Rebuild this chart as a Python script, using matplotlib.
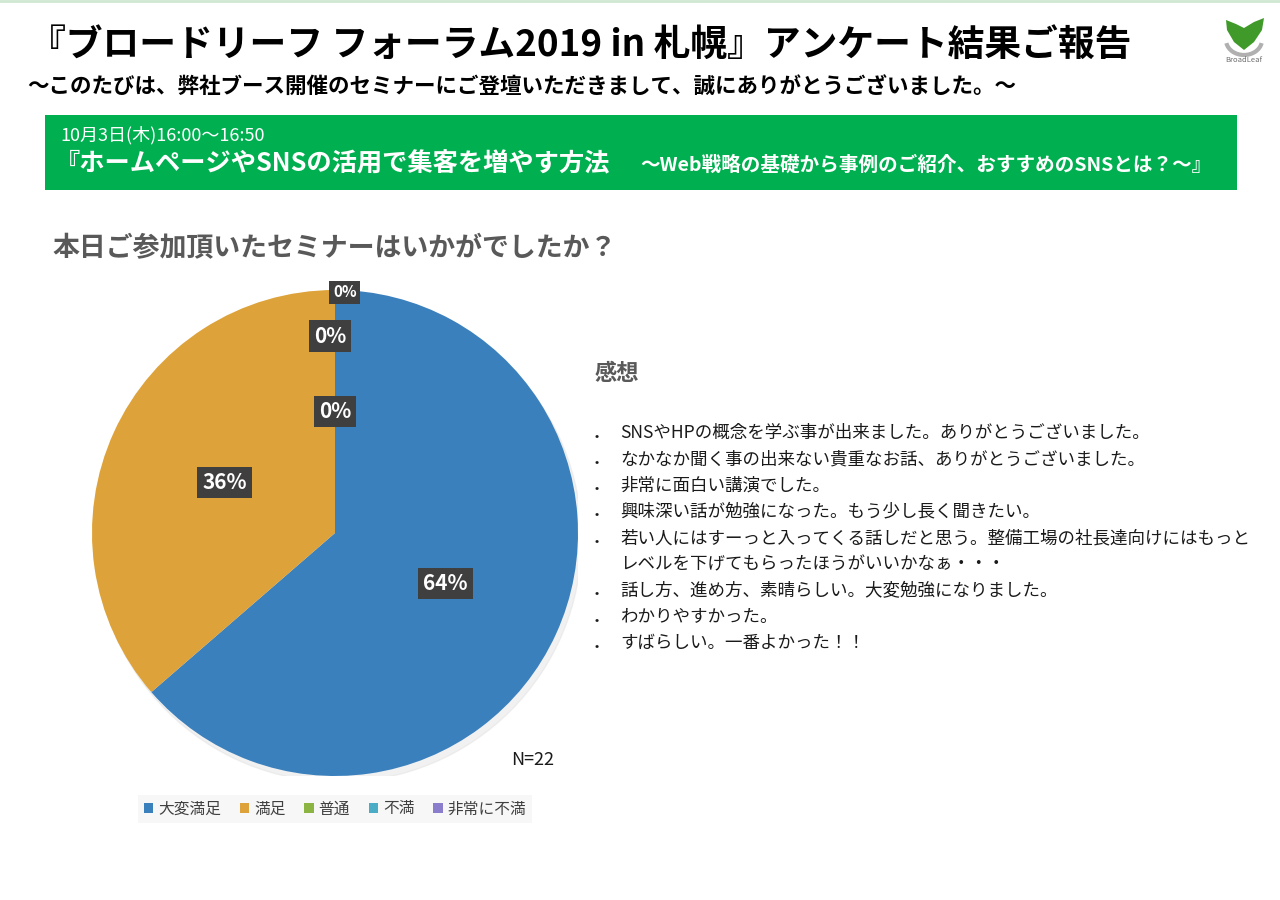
"""
Survey result slide: seminar satisfaction pie + comments
"""
import numpy as np
import matplotlib
matplotlib.use('Agg')
import matplotlib.pyplot as plt
from matplotlib.patches import Rectangle, Patch, Polygon, Arc

################################################################
#################### DATA ######################################
################################################################

title = '『ブロードリーフ フォーラム2019 in 札幌』アンケート結果ご報告'
subtitle = '～このたびは、弊社ブース開催のセミナーにご登壇いただきまして、誠にありがとうございました。～'
session_time = '10月3日(木)16:00～16:50'
session_title = '『ホームページやSNSの活用で集客を増やす方法'
session_sub = '～Web戦略の基礎から事例のご紹介、おすすめのSNSとは？～』'
question = '本日ご参加頂いたセミナーはいかがでしたか？'

categories = ['大変満足', '満足', '普通', '不満', '非常に不満']
counts = [14, 8, 0, 0, 0]
n_total = 22

comments_title = '感想'
comments = [
    'SNSやHPの概念を学ぶ事が出来ました。ありがとうございました。',
    'なかなか聞く事の出来ない貴重なお話、ありがとうございました。',
    '非常に面白い講演でした。',
    '興味深い話が勉強になった。もう少し長く聞きたい。',
    '若い人にはすーっと入ってくる話しだと思う。整備工場の社長達向けにはもっと\nレベルを下げてもらったほうがいいかなぁ・・・',
    '話し方、進め方、素晴らしい。大変勉強になりました。',
    'わかりやすかった。',
    'すばらしい。一番よかった！！',
]

################################################################
#################### PARAMETERS ################################
################################################################

W, H = 1280, 900
colors = ['#3a80bd', '#dda23a', '#8cb443', '#4bacc6', '#8a7dcc']
plt.rcParams['font.family'] = ['Noto Sans CJK JP', 'DejaVu Sans']

def fx(x):
    return x / W

def fy(y):
    return 1 - y / H

fig = plt.figure(figsize=(12.8, 9), dpi=100)
fig.patch.set_facecolor('white')

# thin line at the top edge
fig.add_artist(plt.Line2D([0, 1], [0.999, 0.999], color='#cfe8d2', lw=2))

# Titles
fig.text(fx(580), fy(45), title, ha='center', va='center', fontsize=26.5,
         fontweight='bold', color='black')
fig.text(fx(522), fy(86), subtitle, ha='center', va='center', fontsize=15.5,
         fontweight='bold', color='black')

# Green banner
fig.add_artist(Rectangle((fx(45), fy(190)), fx(1237 - 45), (190 - 115) / H,
                         transform=fig.transFigure, facecolor='#00b050',
                         edgecolor='none'))
fig.text(fx(60), fy(135), session_time, ha='left', va='center', fontsize=13,
         color='white')
fig.text(fx(55), fy(164), session_title, ha='left', va='center', fontsize=18.2,
         fontweight='bold', color='white')
fig.text(fx(640), fy(165), session_sub, ha='left', va='center', fontsize=14.1,
         fontweight='bold', color='white')

# Question
fig.text(fx(52), fy(248), question, ha='left', va='center', fontsize=19.4,
         fontweight='bold', color='#595959')

################################################################
#################### PIE #######################################
################################################################

cx, cy, r = 335, 533, 243
ax = fig.add_axes([fx(cx - r), fy(cy + r), 2 * r / W, 2 * r / H])

# soft shadow
shadow = plt.Circle((0.015, -0.025), 1.0, color='#d9d9d9', alpha=0.35, zorder=0)
ax.add_patch(shadow)

wedges, texts, autotexts = ax.pie(counts, colors=colors, startangle=90,
                                  counterclock=False, radius=1.0,
                                  autopct=lambda p: '%d%%' % round(p),
                                  pctdistance=0.5,
                                  wedgeprops=dict(linewidth=0, zorder=2))
ax.set_xlim(-1.0, 1.0)
ax.set_ylim(-1.0, 1.0)
ax.set_aspect('equal')
ax.axis('off')

# zero labels stacked along the top
zero_pos = [(0.0, 0.5), (-0.02, 0.81), (0.04, 0.99)]
k = 0
for i, t in enumerate(autotexts):
    t.set_color('white')
    t.set_fontweight('bold')
    t.set_fontsize(15)
    t.set_zorder(5)
    t.set_clip_on(False)
    t.set_bbox(dict(boxstyle='square,pad=0.25', facecolor='#3f3f3f',
                    edgecolor='none'))
    if counts[i] == 0:
        t.set_position(zero_pos[k])
        if k == 2:
            t.set_fontsize(11)
        k += 1

fig.text(fx(533), fy(760), 'N=%d' % n_total, ha='center', va='center',
         fontsize=13, color='#1a1a1a')

# Legend
handles = [Patch(facecolor=c, edgecolor='none') for c in colors]
leg = fig.legend(handles, categories, loc='center', ncol=5,
                 bbox_to_anchor=(fx(335), fy(809)), frameon=True,
                 fontsize=11.3, handlelength=0.6, handleheight=0.6,
                 handletextpad=0.3, columnspacing=1.2, borderpad=0.35,
                 fancybox=False)
leg.get_frame().set_facecolor('#f5f5f5')
leg.get_frame().set_edgecolor('none')
for t in leg.get_texts():
    t.set_color('#404040')

################################################################
#################### COMMENTS ##################################
################################################################

fig.text(fx(595), fy(374), comments_title, ha='left', va='center',
         fontsize=16, fontweight='bold', color='#595959')

y = 433
step = 26.3
for c in comments:
    lines = c.split('\n')
    fig.text(fx(597), fy(y + 3), '•', ha='center', va='center', fontsize=9,
             color='#1a1a1a')
    for line in lines:
        fig.text(fx(620), fy(y), line, ha='left', va='center', fontsize=12.6,
                 color='#1a1a1a')
        y += step

################################################################
#################### LOGO ######################################
################################################################

lax = fig.add_axes([fx(1214), fy(64), 60 / W, 52 / H])
lax.set_xlim(0, 60)
lax.set_ylim(0, 52)
lax.axis('off')
lax.add_patch(Arc((30, 24), 36, 30, theta1=190, theta2=350, color='#b0b0b0', lw=3))
lax.add_patch(Polygon([(12, 44), (22, 40), (30, 36), (40, 42), (50, 46),
                       (48, 34), (40, 22), (30, 14), (20, 22), (13, 34)],
                      closed=True, facecolor='#3f9a2a', edgecolor='none'))
lax.text(30, 4, 'BroadLeaf', ha='center', va='center', fontsize=5.5,
         color='#707070')

plt.savefig('out.png', dpi=100)
